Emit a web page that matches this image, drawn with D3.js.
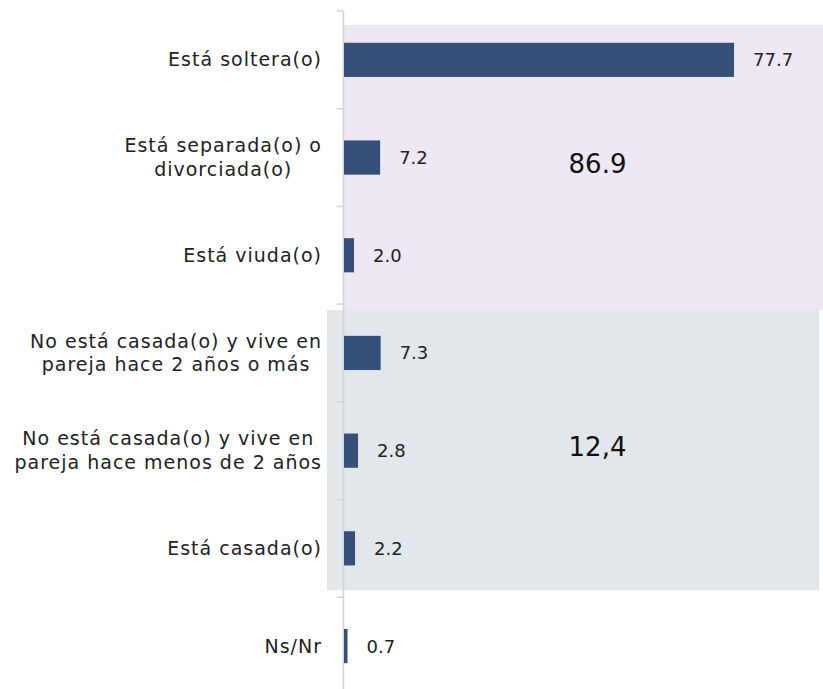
<!DOCTYPE html>
<html><head><meta charset="utf-8">
<script src="https://cdn.jsdelivr.net/npm/d3@7"></script>
<style>body{margin:0;background:#fff}svg{display:block}</style>
</head><body>
<svg id="c" width="823" height="689"></svg>
<script>
const categories = [
  "Está soltera(o)",
  "Está separada(o) o|divorciada(o)",
  "Está viuda(o)",
  "No está casada(o) y vive en|pareja hace 2 años o más",
  "No está casada(o) y vive en|pareja hace menos de 2 años",
  "Está casada(o)",
  "Ns/Nr"
];
const values = [77.7, 7.2, 2.0, 7.3, 2.8, 2.2, 0.7];
const valueLabels = ["77.7", "7.2", "2.0", "7.3", "2.8", "2.2", "0.7"];
const groupLabels = ["86.9", "12,4"];
const groupRows = [[0, 2], [3, 5]];

const FONT = "'DejaVu Sans', sans-serif";
const svg = d3.select("#c");
const x = d3.scaleLinear().domain([0, 100]).range([344, 846]);
const y = d3.scaleBand().domain(categories).range([11, 11 + 7 * 97.7]).paddingInner(0.65).paddingOuter(0.325);
const step = y.step();
const bandTop = i => y.range()[0] + i * step;

// group backgrounds
const bgs = [
  {x0: 344, x1: 823, y0: bandTop(groupRows[0][0]) + 14, y1: bandTop(groupRows[0][1] + 1) + 6, fill: "#eee7f4"},
  {x0: 327, x1: 819, y0: bandTop(groupRows[1][0]) + 6, y1: bandTop(groupRows[1][1] + 1) - 7, fill: "#e2e7eb"}
];
svg.selectAll("rect.bg").data(bgs).join("rect").attr("class", "bg")
  .attr("x", d => d.x0).attr("y", d => d.y0)
  .attr("width", d => d.x1 - d.x0).attr("height", d => d.y1 - d.y0)
  .attr("fill", d => d.fill);

// axis
const ax = svg.append("g").attr("transform", "translate(343.5,0)");
ax.append("line").attr("y1", 11).attr("y2", 700).attr("stroke", "#d4d4d4").attr("stroke-width", 1.5);
d3.range(8).forEach(i => {
  ax.append("line").attr("x1", -7).attr("x2", 0).attr("y1", bandTop(i)).attr("y2", bandTop(i))
    .attr("stroke", "#d4d4d4").attr("stroke-width", 1.5);
});

// bars
svg.selectAll("rect.bar").data(categories).join("rect").attr("class", "bar")
  .attr("x", x(0)).attr("y", d => y(d))
  .attr("width", (d, i) => x(values[i]) - x(0)).attr("height", y.bandwidth())
  .attr("fill", "#36507a");

// value labels
svg.selectAll("text.val").data(categories).join("text").attr("class", "val")
  .attr("x", (d, i) => x(values[i]) + 19)
  .attr("y", d => y(d) + y.bandwidth() / 2 + 6.5)
  .attr("font-family", FONT).attr("font-size", 18).attr("fill", "#222")
  .text((d, i) => valueLabels[i]);

// category labels
categories.forEach(c => {
  const lines = c.split("|");
  const cy = y(c) + y.bandwidth() / 2;
  const g = svg.append("g");
  const texts = lines.map((l, i) => g.append("text")
    .attr("y", cy + (i - (lines.length - 1) / 2) * 23.5 + 6.5)
    .attr("font-family", FONT).attr("font-size", 19).attr("letter-spacing", 1)
    .attr("fill", "#222").text(l));
  const widths = texts.map(t => t.node().getComputedTextLength());
  const maxW = Math.max(...widths);
  const rightX = 322;
  if (lines.length === 1) {
    texts[0].attr("x", rightX).attr("text-anchor", "end");
  } else {
    texts.forEach(t => t.attr("x", rightX - maxW / 2).attr("text-anchor", "middle"));
  }
});

// group labels
bgs.forEach((b, i) => {
  svg.append("text").attr("x", x(50.5)).attr("y", (b.y0 + b.y1) / 2 + 5.5)
    .attr("text-anchor", "middle").attr("font-family", FONT).attr("font-size", 26).attr("fill", "#111")
    .text(groupLabels[i]);
});
</script>
</body></html>
